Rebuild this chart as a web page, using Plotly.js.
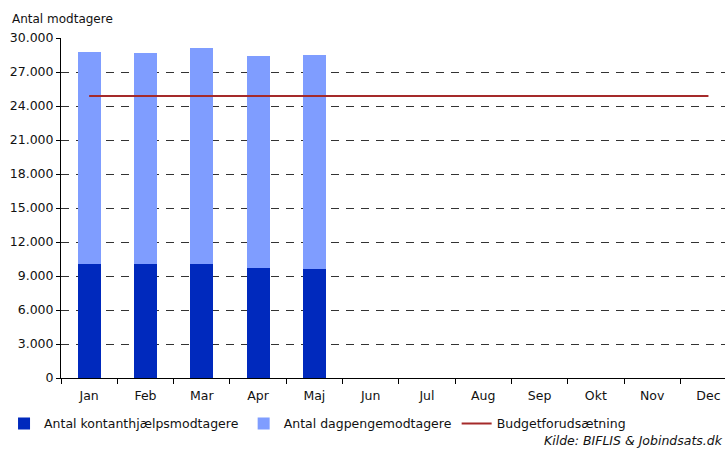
<!DOCTYPE html>
<html><head><meta charset="utf-8">
<script src="https://cdn.plot.ly/plotly-3.0.1.min.js"></script>
<style>html,body{margin:0;padding:0;background:#fff}#c{width:725px;height:450px}</style>
</head><body><div id="c"></div>
<script>
const months = ["Jan","Feb","Mar","Apr","Maj","Jun","Jul","Aug","Sep","Okt","Nov","Dec"];
const barMonths = ["Jan","Feb","Mar","Apr","Maj"];
const kontant = [10060, 10050, 10060, 9710, 9620];
const dagpenge = [18690, 18630, 19060, 18700, 18880];
const budget = [24880,24880,24880,24880,24880,24880,24880,24880,24880,24880,24880,24880];
const yTicks = [0,3000,6000,9000,12000,15000,18000,21000,24000,27000,30000];

const fam = "DejaVu Sans, Verdana, sans-serif";
const font = {family: fam, size: 12.5, color: "#111"};
const traces = [
  {type:"bar", name:"Antal kontanthjælpsmodtagere", x:barMonths, y:kontant, marker:{color:"#0029BD"}, width:0.41},
  {type:"bar", name:"Antal dagpengemodtagere", x:barMonths, y:dagpenge, marker:{color:"#7F9DFF"}, width:0.41},
  {type:"scatter", mode:"lines", name:"Budgetforudsætning", x:months, y:budget, line:{color:"#A52A2A", width:2}}
];
const layout = {
  width:725, height:450, font:font, separators:",.",
  barmode:"stack", showlegend:true,
  margin:{l:61, r:0, t:38, b:72, pad:0},
  paper_bgcolor:"#fff", plot_bgcolor:"#fff",
  xaxis:{type:"category", categoryarray:months, range:[-0.5, 11.294], showline:true, linecolor:"#000", linewidth:1,
    ticks:"outside", tickson:"boundaries", ticklen:5, tickcolor:"#000", showgrid:false, fixedrange:true, tickfont:font,
    ticklabelstandoff:6},
  yaxis:{range:[0,30000], tickvals:yTicks, tickformat:",d", showline:true, linecolor:"#000", linewidth:1,
    ticks:"outside", ticklen:4, tickcolor:"#000", showgrid:true, gridcolor:"#333", griddash:"8px,7px", gridwidth:1,
    zeroline:false, tickfont:font},
  legend:{orientation:"h", x:-0.0858, xanchor:"left", y:-0.0906, yanchor:"top", font:font, traceorder:"normal", itemwidth:30},
  annotations:[
    {text:"Antal modtagere", xref:"paper", yref:"paper", x:-0.077, y:1.0, xanchor:"left", yanchor:"bottom", yshift:10, showarrow:false, font:{family:fam, size:12, color:"#111"}},
    {text:"<i>Kilde: BIFLIS & Jobindsats.dk</i>", xref:"paper", yref:"paper", x:1.0, y:-0.2118, xanchor:"right", yanchor:"bottom", showarrow:false, font:font}
  ]
};
Plotly.newPlot("c", traces, layout, {displayModeBar:false, staticPlot:true});
</script></body></html>
